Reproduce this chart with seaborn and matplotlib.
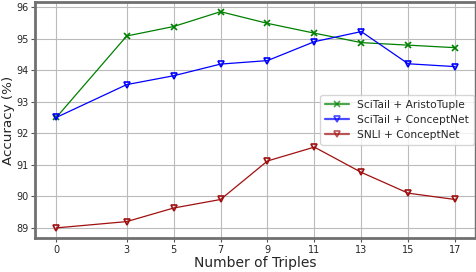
import matplotlib
matplotlib.use("Agg")
import matplotlib.pyplot as plt
import pandas as pd
import seaborn as sns

# ============================================================
# DATA
# ============================================================

triples = [0, 3, 5, 7, 9, 11, 13, 15, 17]

scitail_aristo = [92.50, 95.08, 95.38, 95.85, 95.48, 95.17, 94.87, 94.79, 94.71]
scitail_cnet   = [92.50, 93.54, 93.82, 94.19, 94.30, 94.90, 95.22, 94.20, 94.11]
snli_cnet      = [89.00, 89.20, 89.63, 89.90, 91.12, 91.56, 90.76, 90.10, 89.90]

series_names = ["SciTail + AristoTuple", "SciTail + ConceptNet", "SNLI + ConceptNet"]
colors  = ["green", "blue", "#a01010"]
markers = ["x", "v", "v"]

# ============================================================
# PLOT
# ============================================================

df = pd.DataFrame({
    "triples": triples * 3,
    "acc": scitail_aristo + scitail_cnet + snli_cnet,
    "series": sum([[n] * len(triples) for n in series_names], []),
})

sns.set_style("whitegrid")
plt.rcParams["font.family"] = ["DejaVu Sans"]

fig, ax = plt.subplots(figsize=(4.76, 2.72), dpi=100)

for name, c, m in zip(series_names, colors, markers):
    sub = df[df.series == name]
    mfc = c if m == "x" else "none"
    sns.lineplot(data=sub, x="triples", y="acc", ax=ax, color=c, marker=m,
                 markersize=5, markerfacecolor=mfc, markeredgecolor=c,
                 markeredgewidth=1.2, linewidth=0.9, label=name)

ax.set_xticks(triples)
ax.set_yticks([89, 90, 91, 92, 93, 94, 95, 96])
ax.set_xlim(-0.9, 17.85)
ax.set_ylim(88.68, 96.16)
ax.tick_params(axis="both", labelsize=7, length=3, width=0.8, color="#555555", pad=2)
ax.tick_params(axis="both", which="both", bottom=True, left=True)
ax.set_xlabel("Number of Triples", fontsize=10, labelpad=1)
ax.set_ylabel("Accuracy (%)", fontsize=9.7, labelpad=1)
ax.grid(True, color="#bbbbbb", linewidth=0.8)

for side, s in ax.spines.items():
    s.set_visible(True)
    s.set_color("#707070")
    s.set_linewidth(2 if side in ("left", "bottom", "top") else 1)

leg = ax.legend(loc="center right", bbox_to_anchor=(1.0, 0.5), fontsize=7.7,
                frameon=True, handlelength=2.2, borderpad=0.45, labelspacing=0.45,
                borderaxespad=0.1)
for h in leg.get_lines():
    h.set_linewidth(1.6)
    h.set_alpha(0.7)

plt.subplots_adjust(left=0.074, right=0.998, top=0.993, bottom=0.125)
plt.savefig("out.png", dpi=100)
